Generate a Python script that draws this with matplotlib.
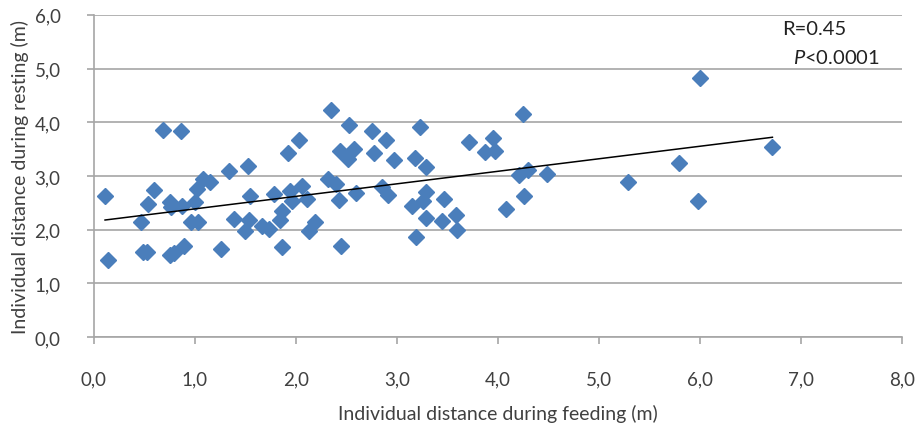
import matplotlib.pyplot as plt
import numpy as np

plt.rcParams['font.family'] = ['Lato', 'DejaVu Sans']
plt.rcParams['mathtext.fontset'] = 'custom'
plt.rcParams['mathtext.rm'] = 'Lato'
plt.rcParams['mathtext.it'] = 'Lato:italic'

# individual distances (m)
feeding = [0.11, 0.14, 0.59, 0.54, 0.47, 0.49, 0.53, 0.75, 0.79, 0.89,
           0.75, 0.76, 0.87, 0.68, 0.86, 1.00, 1.02, 1.08, 0.96, 1.03,
           1.15, 1.34, 1.53, 1.55, 1.39, 1.54, 1.50, 1.66, 1.73, 1.26,
           1.78, 1.86, 1.84, 1.86, 1.92, 2.03, 1.94, 2.06, 1.96, 2.11,
           2.19, 2.13, 2.35, 2.53, 2.75, 2.89, 3.23, 2.44, 2.58, 2.52,
           2.77, 2.97, 3.18, 3.29, 2.32, 2.40, 2.60, 2.85, 2.91, 2.43,
           3.15, 3.26, 3.29, 3.29, 2.45, 3.19, 3.71, 3.95, 3.87, 3.97,
           4.21, 4.30, 4.49, 4.25, 3.47, 4.26, 4.08, 3.45, 3.59, 3.60,
           5.29, 5.79, 6.00, 6.72, 5.98]
resting = [2.62, 1.44, 2.74, 2.48, 2.14, 1.58, 1.58, 1.53, 1.56, 1.70,
           2.52, 2.42, 2.45, 3.86, 3.83, 2.52, 2.76, 2.94, 2.14, 2.14,
           2.88, 3.10, 3.19, 2.63, 2.20, 2.18, 1.97, 2.07, 2.01, 1.64,
           2.66, 2.35, 2.18, 1.67, 3.42, 3.67, 2.72, 2.82, 2.54, 2.57,
           2.15, 1.97, 4.23, 3.94, 3.84, 3.67, 3.92, 3.47, 3.50, 3.31,
           3.42, 3.30, 3.33, 3.17, 2.94, 2.85, 2.68, 2.79, 2.65, 2.55,
           2.45, 2.54, 2.71, 2.22, 1.70, 1.87, 3.64, 3.70, 3.44, 3.47,
           3.02, 3.11, 3.04, 4.15, 2.58, 2.62, 2.38, 2.17, 2.27, 1.99,
           2.89, 3.24, 4.82, 3.54, 2.54]

# trend line as drawn in the reference
trend_slope = 0.233
trend_intercept = 2.155

x_ticks = np.arange(0, 8.01, 1.0)
y_ticks = np.arange(0, 6.01, 1.0)

fig = plt.figure(figsize=(9.21, 4.27), dpi=100)
ax = fig.add_axes([0.102, 0.208, 0.877, 0.755])

grid_c = '#a6a6a6'
txt_c = '#404040'
for v in y_ticks:
    ax.axhline(v, color=grid_c, lw=1.2, zorder=1)

ax.plot(feeding, resting, 'D', color='#4a7ebb', ms=8.2, mec='#4a7ebb', zorder=3)

xs = np.array([min(feeding), max(feeding)])
ax.plot(xs, trend_slope * xs + trend_intercept, color='black', lw=1.1, zorder=4)

ax.set_xlim(0, 8)
ax.set_ylim(0, 6)
ax.set_xticks(x_ticks)
ax.set_yticks(y_ticks)
ax.set_xticklabels([f'{v:.1f}'.replace('.', ',') for v in x_ticks])
ax.set_yticklabels([f'{v:.1f}'.replace('.', ',') for v in y_ticks])

for s in ['top', 'right']:
    ax.spines[s].set_visible(False)
for s in ['left', 'bottom']:
    ax.spines[s].set_color(grid_c)
    ax.spines[s].set_linewidth(1.2)

ax.tick_params(axis='x', direction='out', length=5, color=grid_c, width=1.2,
               pad=19, labelsize=13.5, labelcolor=txt_c)
ax.tick_params(axis='y', direction='out', length=5, color=grid_c, width=1.2,
               pad=19, labelsize=13.5, labelcolor=txt_c)

ax.set_xlabel('Individual distance during feeding (m)', fontsize=14,
              color=txt_c, labelpad=12)
ax.set_ylabel('Individual distance during resting (m)', fontsize=14,
              color=txt_c, labelpad=4)

ax.text(6.82, 5.74, 'R=0.45', fontsize=14.5, va='center', ha='left', color='#222222')
ax.text(6.92, 5.21, r'$\mathit{P}$<0.0001', fontsize=14.5, va='center', ha='left',
        color='#222222')

fig.savefig('out.png', dpi=100)
